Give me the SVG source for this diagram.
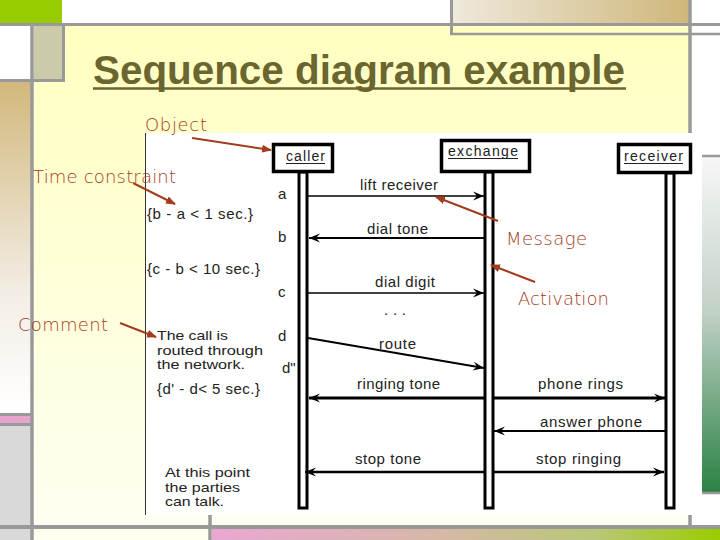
<svg xmlns="http://www.w3.org/2000/svg" width="720" height="540" viewBox="0 0 720 540">
<defs>
<linearGradient id="gTan" x1="0" y1="0" x2="1" y2="0"><stop offset="0" stop-color="#efe9dd"/><stop offset="1" stop-color="#cfb77a"/></linearGradient>
<linearGradient id="gLeft" x1="0" y1="0" x2="0" y2="1"><stop offset="0" stop-color="#d2b87c"/><stop offset="0.65" stop-color="#f3eee6"/><stop offset="1" stop-color="#ffffff"/></linearGradient>
<linearGradient id="gYellow" x1="0" y1="0" x2="0" y2="1"><stop offset="0" stop-color="#ffffc0"/><stop offset="1" stop-color="#fffff2"/></linearGradient>
<linearGradient id="gGreen" x1="0" y1="0" x2="0" y2="1"><stop offset="0" stop-color="#f6f7f6"/><stop offset="0.45" stop-color="#c4d2c8"/><stop offset="1" stop-color="#2b8244"/></linearGradient>
<linearGradient id="gBottom" x1="0" y1="0" x2="1" y2="0"><stop offset="0" stop-color="#e9a6d2"/><stop offset="0.45" stop-color="#d6b8a6"/><stop offset="0.75" stop-color="#b9c778"/><stop offset="1" stop-color="#99cc00"/></linearGradient>
<marker id="ah" viewBox="0 0 12 10" refX="11" refY="5" markerWidth="12" markerHeight="10" markerUnits="userSpaceOnUse" orient="auto">
<path d="M0,0.5 L11,5 L0,9.5 L4,5 Z" fill="#000"/>
</marker>
<marker id="ra" viewBox="0 0 10 8" refX="9" refY="4" markerWidth="10" markerHeight="8" markerUnits="userSpaceOnUse" orient="auto">
<path d="M0,0 L10,4 L0,8 Z" fill="#a33c1c"/>
</marker>
<style>
.gl{stroke:#999;fill:none}
.lbl{font-family:"Liberation Sans",Arial,sans-serif;font-size:15px;fill:#222}
.cm{font-family:"Liberation Sans",Arial,sans-serif;font-size:12.8px;fill:#222}
.obj{font-family:"Liberation Sans",Arial,sans-serif;font-size:14px;fill:#222}
.ul{stroke:#222;stroke-width:1}
.ann{font-family:"DejaVu Sans",Verdana,sans-serif;font-size:18px;font-weight:200;fill:#a33c1c}
.msg{stroke:#000;fill:none}
.box{fill:#fff;stroke:#000;stroke-width:3.5}
.bar{fill:#fff;stroke:#000;stroke-width:3}
.rarr{stroke:#a33c1c;stroke-width:2;fill:none}
</style>
</defs>

<!-- background slide decoration -->
<rect x="0" y="0" width="720" height="540" fill="#fff"/>
<rect x="0" y="0" width="62" height="23" fill="#99cc00"/>
<rect x="450" y="0" width="240" height="23" fill="url(#gTan)"/>
<rect x="34" y="26" width="656" height="500" fill="url(#gYellow)"/>
<rect x="34" y="26" width="28" height="54" fill="#cbcba9"/>
<rect x="0" y="82" width="31" height="331" fill="url(#gLeft)"/>
<rect x="0" y="416" width="31" height="7" fill="#e6a4cf"/>
<rect x="0" y="426" width="31" height="114" fill="#d9d9d9"/>
<rect x="702" y="157" width="18" height="335" fill="url(#gGreen)"/>
<rect x="34" y="529" width="176" height="11" fill="#fffff0"/>
<rect x="212" y="529" width="508" height="11" fill="url(#gBottom)"/>
<g class="gl">
<line x1="0" y1="24.5" x2="720" y2="24.5" stroke-width="3"/>
<line x1="450" y1="34" x2="720" y2="34" stroke-width="2.5"/>
<line x1="451.5" y1="0" x2="451.5" y2="35" stroke-width="3"/>
<line x1="690" y1="0" x2="690" y2="527" stroke-width="3.5"/>
<line x1="32" y1="26" x2="32" y2="540" stroke-width="3.5"/>
<line x1="63.5" y1="26" x2="63.5" y2="81" stroke-width="3"/>
<line x1="0" y1="80.5" x2="65" y2="80.5" stroke-width="3"/>
<line x1="0" y1="414.5" x2="31" y2="414.5" stroke-width="3"/>
<line x1="0" y1="424.5" x2="31" y2="424.5" stroke-width="3"/>
<line x1="702" y1="156" x2="720" y2="156" stroke-width="2.5"/>
<line x1="702" y1="493" x2="720" y2="493" stroke-width="2.5"/>
<line x1="0" y1="527" x2="720" y2="527" stroke-width="4"/>
<line x1="210" y1="515" x2="210" y2="540" stroke-width="3.5"/>
</g>

<!-- title -->
<g id="title">
<text x="93" y="84" font-family="'Liberation Sans',Arial,sans-serif" font-size="40" font-weight="bold" fill="#6b6530" textLength="532" lengthAdjust="spacingAndGlyphs">Sequence diagram example</text>
<line x1="93" y1="88.5" x2="626" y2="88.5" stroke="#6b6530" stroke-width="2.5"/>
</g>

<!-- diagram panel -->
<rect x="145" y="133" width="557" height="382" fill="#fff"/>
<line x1="145.5" y1="133" x2="145.5" y2="515" stroke="#333" stroke-width="1"/>

<g id="caller">
<rect class="bar" x="299" y="172" width="8" height="336"/>
<rect class="box" x="273.5" y="144.5" width="59" height="27"/>
<text class="obj" x="286" y="161" textLength="39" lengthAdjust="spacing">caller</text>
<line class="ul" x1="286" y1="163.5" x2="325" y2="163.5"/>
</g>
<g id="exchange">
<rect class="bar" x="485" y="172" width="8" height="336"/>
<rect class="box" x="441.5" y="140.5" width="88" height="31"/>
<text class="obj" x="448" y="156" textLength="70" lengthAdjust="spacing">exchange</text>
<line class="ul" x1="448" y1="158.5" x2="518" y2="158.5"/>
</g>
<g id="receiver">
<rect class="bar" x="666" y="173" width="8" height="335"/>
<rect class="box" x="618.5" y="144.5" width="72" height="28"/>
<text class="obj" x="624" y="161" textLength="59" lengthAdjust="spacing">receiver</text>
<line class="ul" x1="624" y1="163.5" x2="683" y2="163.5"/>
</g>

<g id="connectors">
<line class="msg" x1="308" y1="196" x2="484" y2="196" stroke-width="1.3" marker-end="url(#ah)"/>
<line class="msg" x1="484" y1="238" x2="309" y2="238" stroke-width="2" marker-end="url(#ah)"/>
<line class="msg" x1="308" y1="293" x2="484" y2="293" stroke-width="1.5" marker-end="url(#ah)"/>
<line class="msg" x1="308" y1="338" x2="484" y2="368" stroke-width="2" marker-end="url(#ah)"/>
<line class="msg" x1="484" y1="398" x2="309" y2="398" stroke-width="3" marker-end="url(#ah)"/>
<line class="msg" x1="494" y1="398" x2="665" y2="398" stroke-width="3" marker-end="url(#ah)"/>
<line class="msg" x1="665" y1="431" x2="494" y2="431" stroke-width="2" marker-end="url(#ah)"/>
<line class="msg" x1="484" y1="472" x2="305" y2="472" stroke-width="2.5" marker-end="url(#ah)"/>
<line class="msg" x1="494" y1="472" x2="664" y2="472" stroke-width="2.5" marker-end="url(#ah)"/>
<line class="rarr" x1="192" y1="138" x2="271" y2="150" marker-end="url(#ra)"/>
<line class="rarr" x1="133" y1="183" x2="175" y2="204" marker-end="url(#ra)"/>
<line class="rarr" x1="498" y1="221" x2="436" y2="197" marker-end="url(#ra)"/>
<line class="rarr" x1="535" y1="282" x2="491" y2="265" marker-end="url(#ra)"/>
<line class="rarr" x1="120" y1="323" x2="156" y2="337" marker-end="url(#ra)"/>
</g>

<g id="message-labels">
<text class="lbl" x="360" y="190" textLength="78" lengthAdjust="spacing">lift receiver</text>
<text class="lbl" x="367" y="234" textLength="61" lengthAdjust="spacing">dial tone</text>
<text class="lbl" x="375" y="287" textLength="60" lengthAdjust="spacing">dial digit</text>
<text class="lbl" x="384" y="315" font-size="11" fill="#666" textLength="22" lengthAdjust="spacing">. . .</text>
<text class="lbl" x="379" y="349" textLength="37" lengthAdjust="spacing">route</text>
<text class="lbl" x="357" y="389" textLength="83" lengthAdjust="spacing">ringing tone</text>
<text class="lbl" x="538" y="389" textLength="85" lengthAdjust="spacing">phone rings</text>
<text class="lbl" x="540" y="427" textLength="102" lengthAdjust="spacing">answer phone</text>
<text class="lbl" x="355" y="464" textLength="66" lengthAdjust="spacing">stop tone</text>
<text class="lbl" x="536" y="464" textLength="85" lengthAdjust="spacing">stop ringing</text>
</g>

<g id="time-marks">
<text class="lbl" x="278" y="199">a</text>
<text class="lbl" x="278" y="242">b</text>
<text class="lbl" x="278" y="297">c</text>
<text class="lbl" x="278" y="341">d</text>
<text class="lbl" x="282" y="373">d"</text>
</g>

<g id="constraints">
<text class="lbl" x="147" y="219" textLength="106" lengthAdjust="spacing">{b - a &lt; 1 sec.}</text>
<text class="lbl" x="147" y="274" textLength="113" lengthAdjust="spacing">{c - b &lt; 10 sec.}</text>
<text class="cm" x="157" y="340" textLength="71" lengthAdjust="spacingAndGlyphs">The call is</text>
<text class="cm" x="157" y="354.5" textLength="106" lengthAdjust="spacingAndGlyphs">routed through</text>
<text class="cm" x="157" y="369" textLength="88" lengthAdjust="spacingAndGlyphs">the network.</text>
<text class="lbl" x="157" y="394" textLength="103" lengthAdjust="spacing">{d' - d&lt; 5 sec.}</text>
<text class="cm" x="165" y="477" textLength="85" lengthAdjust="spacingAndGlyphs">At this point</text>
<text class="cm" x="165" y="491.5" textLength="75" lengthAdjust="spacingAndGlyphs">the parties</text>
<text class="cm" x="165" y="506" textLength="59" lengthAdjust="spacingAndGlyphs">can talk.</text>
</g>

<g id="annotations">
<text class="ann" x="145" y="131" textLength="62" lengthAdjust="spacing">Object</text>
<text class="ann" x="33" y="183" textLength="143" lengthAdjust="spacing">Time constraint</text>
<text class="ann" x="506" y="245" textLength="81" lengthAdjust="spacing">Message</text>
<text class="ann" x="518" y="305" textLength="91" lengthAdjust="spacing">Activation</text>
<text class="ann" x="18" y="331" textLength="90" lengthAdjust="spacing">Comment</text>
</g>
</svg>
